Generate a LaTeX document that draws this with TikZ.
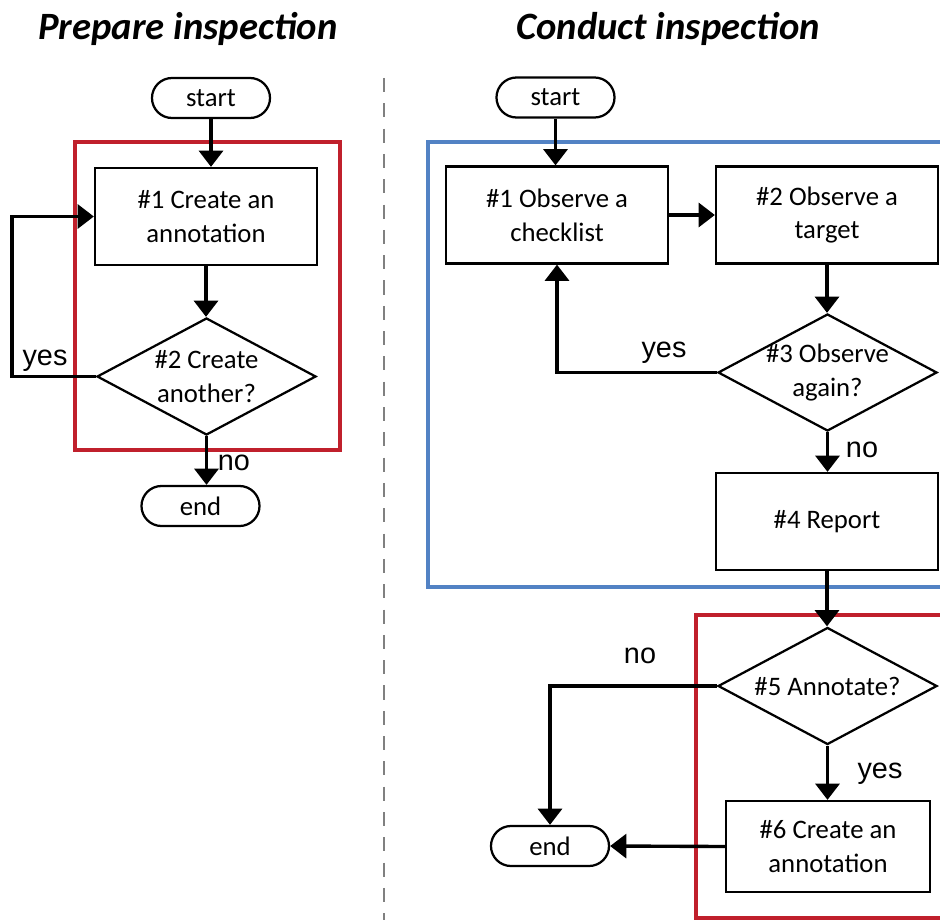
\documentclass[tikz,border=0pt]{standalone}
\usepackage{fontspec}
\setmainfont{Carlito}
\newfontfamily\yesnofont{Liberation Sans}
\usetikzlibrary{shapes}
\usetikzlibrary{arrows.meta}
\usetikzlibrary{positioning}

\definecolor{framered}{RGB}{192,32,44}
\definecolor{frameblue}{RGB}{82,130,196}

\begin{document}
\begin{tikzpicture}[x=0.025cm,y=-0.025cm,
  process/.style={draw,line width=1.6pt,fill=white,minimum width=5.55cm,minimum height=2.425cm,align=center,inner sep=0pt,font=\fontsize{19}{24}\selectfont},
  decision/.style={draw,diamond,line width=1.6pt,fill=white,minimum width=5.475cm,minimum height=2.925cm,inner sep=0pt},
  dtext/.style={align=center,inner sep=0pt,font=\fontsize{19}{24}\selectfont},
  terminal/.style={draw,rounded rectangle,line width=1.6pt,fill=white,minimum width=2.95cm,minimum height=1cm,inner sep=0pt,font=\fontsize{19}{24}\selectfont},
  flow/.style={line width=2.4pt,-{Triangle[width=17pt,length=11.5pt]}},
  answer/.style={font=\yesnofont\fontsize{20.5}{24}\selectfont,anchor=base,inner sep=0pt},
  heading/.style={font=\fontsize{27.5}{30}\selectfont\bfseries\itshape,anchor=base},
  frame/.style={line width=3.2pt}]
  \clip (0,0) rectangle (940,920);

  % titles and divider
  \node[heading] (t1) at (188,40) {Prepare inspection};
  \node[heading] (t2) at (668,40) {Conduct inspection};
  \draw[gray,line width=2pt,dash pattern=on 10pt off 8pt] (384,78) -- (384,925);

  % frames
  \draw[frame,framered] (75,142) rectangle (340,450);
  \draw[frame,frameblue] (428,142) rectangle (960,587);
  \draw[frame,framered] (696,615) rectangle (960,918);

  % prepare inspection
  \node[terminal] (ls) at (211,98) {start};
  \node[process] (lb1) at (206,216.5) {\#1 Create an\\annotation};
  \node[decision,label={[dtext]center:{\#2 Create\\another?}}] (ld2) at (206.5,376.5) {};
  \node[terminal] (le) at (200.5,506) {end};
  \coordinate (lyes) at (12,0);

  \draw[flow] (ls.south) -- (ls.south |- lb1.north);
  \draw[flow] (lb1.south) -- (lb1.south |- ld2.north);
  \draw[flow] (ld2.west) -- (ld2.west -| lyes) |- (lb1.west);
  \draw[flow] (ld2.south) -- (ld2.south |- le.north);
  \node[answer] (lyt) at (45,365) {yes};
  \node[answer] (lnt) at (234,470) {no};

  % conduct inspection
  \node[terminal] (rs) at (555.5,97.5) {start};
  \node[process] (rb1) at (557,215) {\#1 Observe a\\checklist};
  \node[process] (rb2) at (827,215) {\#2 Observe a\\target};
  \node[decision,label={[dtext]center:{\#3 Observe\\again?}}] (rd3) at (827.5,372.5) {};
  \node[process] (rb4) at (827,521.5) {\#4 Report};
  \node[decision,label={[dtext]center:{\#5 Annotate?}}] (rd5) at (827.5,686) {};
  \node[process,minimum width=5.1cm,minimum height=2.275cm] (rb6) at (828,846.5) {\#6 Create an\\annotation};
  \node[terminal] (re) at (550,846) {end};

  \draw[flow] (rs.south) -- (rs.south |- rb1.north);
  \draw[flow] (rb1.east) -- (rb2.west);
  \draw[flow] (rb2.south) -- (rb2.south |- rd3.north);
  \draw[flow] (rd3.west) -| (rb1.south);
  \draw[flow] (rd3.south) -- (rd3.south |- rb4.north);
  \draw[flow] (rb4.south) -- (rb4.south |- rd5.north);
  \draw[flow] (rd5.west) -| (re.north);
  \draw[flow] (rd5.south) -- (rd5.south |- rb6.north);
  \draw[flow] (rb6.west) -- (re.east);
  \node[answer] (ryt) at (664,357) {yes};
  \node[answer] (rnt) at (862,457) {no};
  \node[answer] (rnt2) at (640,663) {no};
  \node[answer] (ryt2) at (880,778) {yes};
\end{tikzpicture}
\end{document}
